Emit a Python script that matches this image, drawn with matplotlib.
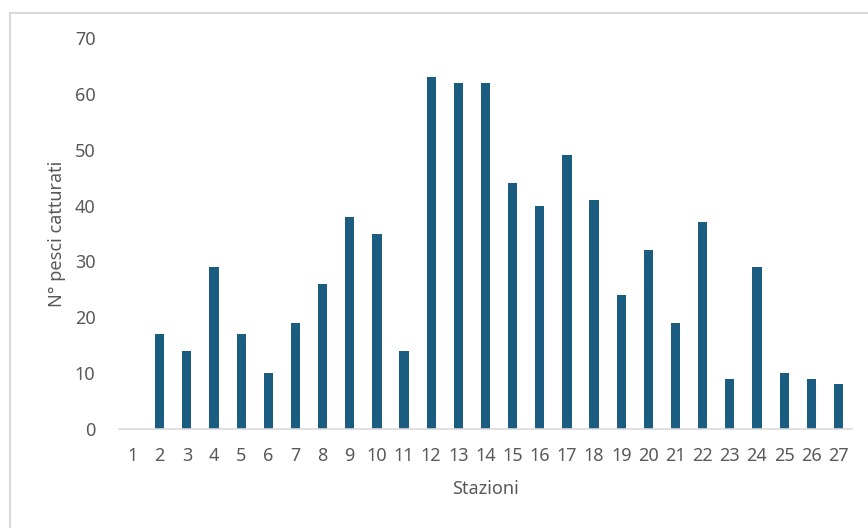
import matplotlib.pyplot as plt
from matplotlib.patches import Rectangle

stazioni = [str(i) for i in range(1, 28)]
pesci = [0, 17, 14, 29, 17, 10, 19, 26, 38, 35, 14, 63, 62, 62, 44, 40, 49, 41,
         24, 32, 19, 37, 9, 29, 10, 9, 8]

plt.rcParams['font.family'] = ['Noto Sans', 'DejaVu Sans']
grey = '#595959'

fig = plt.figure(figsize=(8.68, 5.28), dpi=100)
fig.patches.append(Rectangle((10 / 868, -0.1), 1.1, 1 - 13 / 528 + 0.1,
                             transform=fig.transFigure, fill=False,
                             edgecolor='#d9d9d9', linewidth=1.5))

ax = fig.add_axes([119 / 868, 1 - 429 / 528, 733 / 868, 391 / 528])
ax.bar(stazioni, pesci, width=0.34, color='#1a5d80', zorder=2)

ax.set_ylim(0, 70)
ax.set_xlim(-0.5, len(stazioni) - 0.5)
ax.set_yticks(range(0, 71, 10))
for s in ['top', 'right', 'left']:
    ax.spines[s].set_visible(False)
ax.spines['bottom'].set_color('#d9d9d9')
ax.spines['bottom'].set_linewidth(1.2)
ax.tick_params(axis='both', length=0, labelsize=13, labelcolor=grey)
ax.tick_params(axis='y', pad=17)
ax.tick_params(axis='x', pad=13)

ax.set_xlabel('Stazioni', fontsize=13, color=grey, labelpad=11)
ax.set_ylabel('N° pesci catturati', fontsize=13, color=grey, labelpad=6)

fig.savefig('out.png', dpi=100)
